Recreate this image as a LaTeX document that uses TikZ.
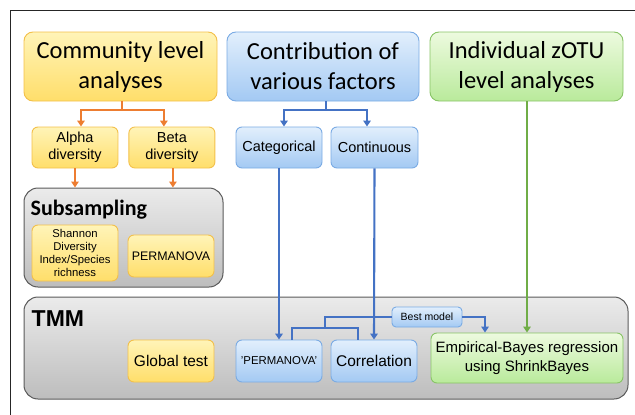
\documentclass[tikz,border=0pt]{standalone}
\usepackage{fontspec}
\setmainfont{Liberation Sans}
\newfontfamily\calibrifont{Carlito}
\definecolor{anaYellowTop}{HTML}{FFF4B8}
\definecolor{anaYellowBot}{HTML}{FFDE6A}
\definecolor{anaYellowLine}{HTML}{F3C04A}
\definecolor{anaBlueTop}{HTML}{E2EFFC}
\definecolor{anaBlueBot}{HTML}{A3C9F3}
\definecolor{anaBlueLine}{HTML}{7AABE4}
\definecolor{anaGreenTop}{HTML}{EDFADF}
\definecolor{anaGreenBot}{HTML}{B9EA9B}
\definecolor{anaGreenLine}{HTML}{88C466}
\definecolor{anaGrayTop}{HTML}{EBEBEB}
\definecolor{anaGrayBot}{HTML}{BDBDBD}
\definecolor{anaGrayLine}{HTML}{5A5A5A}
\definecolor{linkOrange}{HTML}{ED7D31}
\definecolor{linkBlue}{HTML}{4472C4}
\definecolor{linkGreen}{HTML}{70AD47}
\usetikzlibrary{
	arrows.meta,
	positioning,
	calc
}
\tikzset{
	caja/.style={
		rounded corners=6pt,
		align=center,
		inner sep=2pt,
		line width=0.9pt,
		minimum width=86pt,
		minimum height=41pt,
		font=\fontsize{14.5}{17}\selectfont
	},
	cabecera/.style={
		caja,
		rounded corners=9pt,
		minimum width=193pt,
		minimum height=69pt,
		font=\calibrifont\fontsize{24.5}{30}\selectfont
	},
	amarilla/.style={
		draw=anaYellowLine,
		top color=anaYellowTop,
		bottom color=anaYellowBot
	},
	azul/.style={
		draw=anaBlueLine,
		top color=anaBlueTop,
		bottom color=anaBlueBot
	},
	verde/.style={
		draw=anaGreenLine,
		top color=anaGreenTop,
		bottom color=anaGreenBot
	},
	panel/.style={
		draw=anaGrayLine,
		rounded corners=14pt,
		line width=1pt,
		top color=anaGrayTop,
		bottom color=anaGrayBot,
		inner sep=0pt
	},
	titulo/.style={
		anchor=base west,
		inner sep=0pt,
		font=\calibrifont\bfseries
	},
	flechaNaranja/.style={
		-{Triangle[length=6pt,width=7.5pt]},
		line width=2.1pt,
		linkOrange
	},
	flechaAzul/.style={
		-{Triangle[length=6pt,width=7.5pt]},
		line width=2.1pt,
		linkBlue
	},
	flechaVerde/.style={
		-{Triangle[length=6pt,width=7.5pt]},
		line width=2.1pt,
		linkGreen
	},
	marco/.style={
		line width=0.9pt,
		black!85
	}
}

\begin{document}
\begin{tikzpicture}[x=1pt,y=-1pt]
		\useasboundingbox (0,0) rectangle (635,415);
		\draw[marco] (10,415) -- (10,10) -- (635,10);
		\node[panel, minimum width=199pt, minimum height=99pt] (subs) at (123.5,237.5) {};
		\node[panel, minimum width=604pt, minimum height=102pt] (tmm) at (326,348) {};
		\node[titulo, font=\calibrifont\bfseries\fontsize{22}{26}\selectfont] (subsT) at (30.5,215) {Subsampling};
		\node[titulo, font=\bfseries\fontsize{23}{27}\selectfont] (tmmT) at (31.5,326) {TMM};
		\node[cabecera, amarilla] (comm) at (120.5,66.5) {Community level\\analyses};
		\node[cabecera, azul, minimum width=192pt] (contrib) at (323,66.5) {Contribution of\\various factors};
		\node[cabecera, verde] (indiv) at (526.5,66.5) {Individual zOTU\\level analyses};
		\node[caja, amarilla] (alpha) at (75,147.5) {Alpha\\diversity};
		\node[caja, amarilla, right=10pt of alpha] (beta) {Beta\\diversity};
		\node[caja, azul] (categ) at (279,147.5) {Categorical};
		\node[caja, azul, minimum width=87pt] (contin) at (374.5,147.5) {Continuous};
		\node[caja, amarilla, minimum height=56pt, font=\fontsize{11.3}{13.3}\selectfont] (shannon) at (75,253) {Shannon\\Diversity\\Index/Species\\richness};
		\node[caja, amarilla, minimum height=42pt, font=\fontsize{12.4}{15}\selectfont] (perm) at (171,256) {PERMANOVA};
		\node[caja, amarilla, minimum height=42pt, font=\fontsize{15.5}{18}\selectfont] (glob) at (171,361) {Global test};
		\node[caja, azul, minimum height=42pt, font=\fontsize{11.4}{14}\selectfont] (permq) at (279,361) {'PERMANOVA'};
		\node[caja, azul, minimum height=42pt, font=\fontsize{15.5}{18}\selectfont] (corr) at (374,361) {Correlation};
		\node[caja, verde, minimum width=192pt, minimum height=50pt, font=\fontsize{15}{18.3}\selectfont] (emp) at (527,358) {Empirical-Bayes regression\\using ShrinkBayes};
		\node[caja, azul, rounded corners=4pt, minimum width=70pt, minimum height=20pt, font=\fontsize{10.5}{12}\selectfont] (best) at (427,317) {Best model};
		\coordinate (oj) at (122,110);
		\coordinate (bj) at (326,110);
		\coordinate (mj) at (325,328);
		\coordinate (ej) at (485,317);
		\draw[flechaNaranja, -] (comm.south -| oj) -- (oj);
		\draw[flechaNaranja] (oj) -| ([xshift=6pt]alpha.north);
		\draw[flechaNaranja] (oj) -| ([xshift=-8pt]beta.north);
		\draw[flechaNaranja] (alpha.south) -- (alpha.south |- subs.north);
		\draw[flechaNaranja] ([xshift=1pt]beta.south) -- ([xshift=1pt]beta.south |- subs.north);
		\draw[flechaAzul, -] (contrib.south -| bj) -- (bj);
		\draw[flechaAzul] (bj) -| ([xshift=5pt]categ.north);
		\draw[flechaAzul] (bj) -| ([xshift=-7.5pt]contin.north);
		\draw[flechaAzul] (categ.south) -- (permq.north);
		\draw[flechaAzul] (contin.south) -- (corr.north);
		\draw[flechaVerde] (indiv.south -| emp.north) -- (emp.north);
		\draw[flechaAzul, -] (best.west) -| (mj);
		\draw[flechaAzul, -] ([xshift=13pt]permq.north) |- (mj) -| ([xshift=-16pt]corr.north);
		\draw[flechaAzul] (best.east) -- (ej) -- (ej |- emp.north);
	\end{tikzpicture}
\end{document}
